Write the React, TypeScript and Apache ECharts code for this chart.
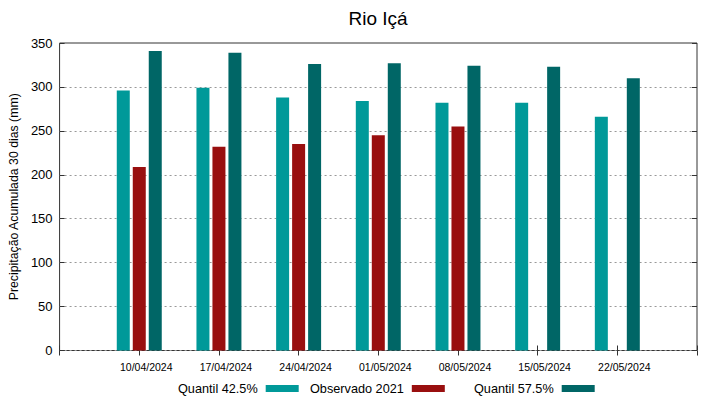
import React, { useEffect, useRef } from "react";
import * as echarts from "echarts";

const categories = ["10/04/2024", "17/04/2024", "24/04/2024", "01/05/2024", "08/05/2024", "15/05/2024", "22/05/2024"];
const quantil425 = [296, 299, 288, 284, 282, 282, 266];
const observado2021: (number | null)[] = [209, 232, 235, 245, 255, null, null];
const quantil575 = [341, 339, 326, 327, 324, 323, 310];
const seriesNames = ["Quantil 42.5%", "Observado 2021", "Quantil 57.5%"];
const colors = ["#009999", "#990f0f", "#006666"];

const FONT = "Liberation Sans, Arial, sans-serif";

export default function App() {
  const ref = useRef<HTMLDivElement>(null);
  useEffect(() => {
    if (!ref.current) return;
    const chart = echarts.init(ref.current, undefined, { renderer: "svg" });
    const axisData = ["", ...categories, ""];
    const pad = (arr: (number | null)[]) => [null, ...arr, null];
    const all = [quantil425, observado2021, quantil575];
    const legendLefts = [173, 305, 469];
    chart.setOption({
      animation: false,
      textStyle: { fontFamily: FONT },
      title: {
        text: "Rio Içá",
        left: 373,
        textAlign: "center",
        top: 4,
        textStyle: { fontFamily: FONT, fontSize: 19, fontWeight: "normal", color: "#000" },
      },
      legend: seriesNames.map((n, i) => ({
        data: [n],
        left: legendLefts[i],
        top: 377,
        align: "right",
        icon: "rect",
        itemWidth: 33,
        itemHeight: 7,
        itemGap: 0,
        textStyle: { fontFamily: FONT, fontSize: 12.7, color: "#000", padding: [0, 3, 0, 0] },
      })),
      grid: {
        left: 59,
        right: 22,
        top: 43,
        bottom: 48.5,
        show: true,
        borderColor: "#333",
        borderWidth: 1,
      },
      xAxis: [
        {
          type: "category",
          data: axisData,
          boundaryGap: false,
          axisLine: { show: false },
          axisTick: { show: true, inside: true, length: 5, interval: 0, lineStyle: { color: "#333" } },
          axisLabel: { interval: 0, fontSize: 10.5, color: "#000", margin: 11, padding: [0, 0, 0, 14], fontFamily: FONT },
          splitLine: { show: false },
        },
        {
          type: "category",
          data: axisData,
          boundaryGap: false,
          position: "top",
          axisLine: { show: false },
          axisTick: { show: true, inside: true, length: 5, interval: 0, lineStyle: { color: "#333" } },
          axisLabel: { show: false },
          splitLine: { show: false },
        },
      ],
      yAxis: [
        {
          type: "value",
          min: 0,
          max: 350,
          interval: 50,
          name: "Precipitação Acumulada 30 dias (mm)",
          nameLocation: "middle",
          nameGap: 31,
          nameTextStyle: { fontFamily: FONT, fontSize: 12.3, color: "#000" },
          axisLine: { show: false },
          axisTick: { show: true, inside: true, length: 5, lineStyle: { color: "#333" } },
          axisLabel: { fontSize: 13, color: "#000", margin: 7, fontFamily: FONT },
          splitLine: { show: true, lineStyle: { type: [2, 3], color: "#999", width: 1 } },
        },
        {
          type: "value",
          min: 0,
          max: 350,
          interval: 50,
          position: "right",
          axisLine: { show: false },
          axisTick: { show: true, inside: true, length: 5, lineStyle: { color: "#333" } },
          axisLabel: { show: false },
          splitLine: { show: false },
        },
      ],
      series: seriesNames.map((n, i) => ({
        name: n,
        type: "bar",
        data: pad(all[i]),
        barWidth: 13,
        barGap: "23%",
        itemStyle: { color: colors[i] },
      })),
    });
    return () => chart.dispose();
  }, []);
  return <div ref={ref} style={{ width: 719, height: 399, position: "absolute", left: 0, top: 0 }} />;
}
